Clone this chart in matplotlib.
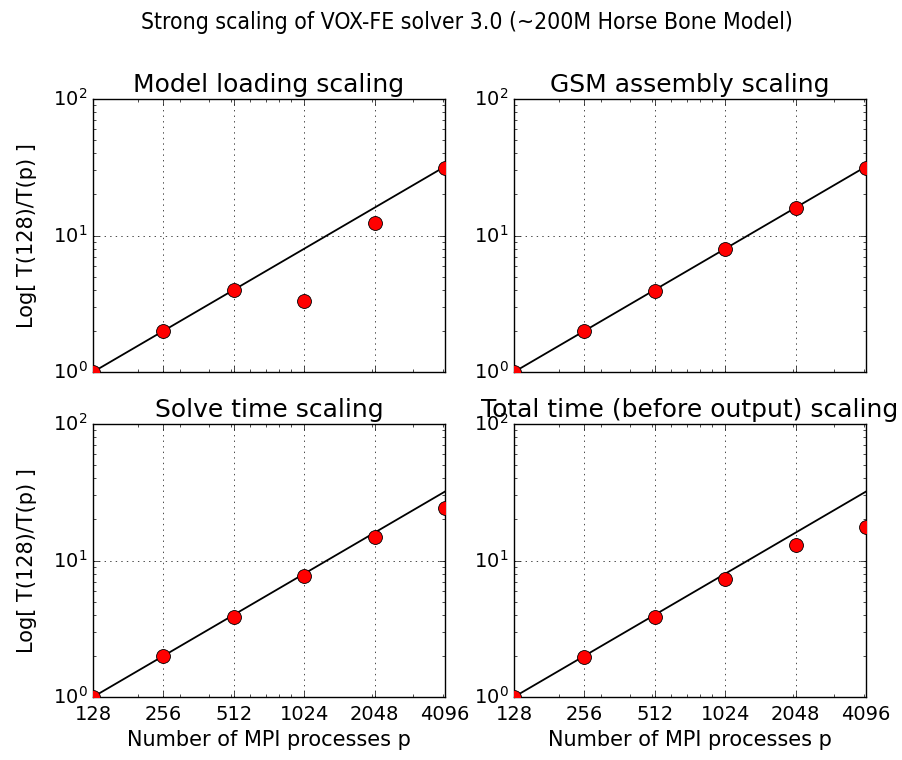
import matplotlib
matplotlib.use('Agg')
import matplotlib.pyplot as plt
from matplotlib.ticker import ScalarFormatter, FixedLocator

procs = [128, 256, 512, 1024, 2048, 4096]

# speedups T(128)/T(p)
load_speedup = [1.0, 2.0, 4.0, 3.33, 12.3, 31.1]
gsm_speedup = [1.0, 2.0, 3.94, 7.9, 15.9, 31.2]
solve_speedup = [1.0, 2.0, 3.86, 7.68, 14.8, 24.1]
total_speedup = [1.0, 1.98, 3.86, 7.35, 12.9, 17.6]

ideal = [p / 128 for p in procs]

titles = ['Model loading scaling', 'GSM assembly scaling',
          'Solve time scaling', 'Total time (before output) scaling']
series = [load_speedup, gsm_speedup, solve_speedup, total_speedup]

plt.style.use('classic')
plt.rcParams['figure.facecolor'] = 'white'
plt.rcParams['font.family'] = 'DejaVu Sans'

fig = plt.figure(figsize=(9.03, 7.6), dpi=100)
fig.suptitle('Strong scaling of VOX-FE solver 3.0 (~200M Horse Bone Model)',
             fontsize=16.5, fontstretch='condensed', x=0.517, y=0.985)

# axes boxes in pixels: left 93..444 / 514..866, top rows 99..371 / 424..698
W, H = 903.0, 760.0
lefts = [93, 514]
tops = [99, 424]
for k in range(4):
    r, c = divmod(k, 2)
    x0 = lefts[c]
    y0 = tops[r]
    ax = fig.add_axes([x0 / W, 1 - (y0 + 273) / H, 352 / W, 273 / H])
    ax.set_xscale('log')
    ax.set_yscale('log')
    ax.plot(procs, ideal, 'k-', lw=1.3)
    ax.plot(procs, series[k], 'o', color='red', mec='black', mew=0.6,
            ms=10, zorder=5)
    ax.set_xlim(128, 4096)
    ax.set_ylim(1, 100)
    ax.xaxis.set_major_locator(FixedLocator(procs))
    ax.xaxis.set_major_formatter(ScalarFormatter())
    ax.grid(True)
    ax.set_title(titles[k], fontsize=18)
    ax.tick_params(labelsize=14)
    ax.tick_params(axis='x', pad=6)
    if c == 0:
        ax.set_ylabel('Log[ T(128)/T(p) ]', fontsize=15, labelpad=11)
    if r == 1:
        ax.set_xlabel('Number of MPI processes p', fontsize=15, labelpad=4)
    else:
        ax.set_xticklabels([])

fig.savefig('out.png', dpi=100)
